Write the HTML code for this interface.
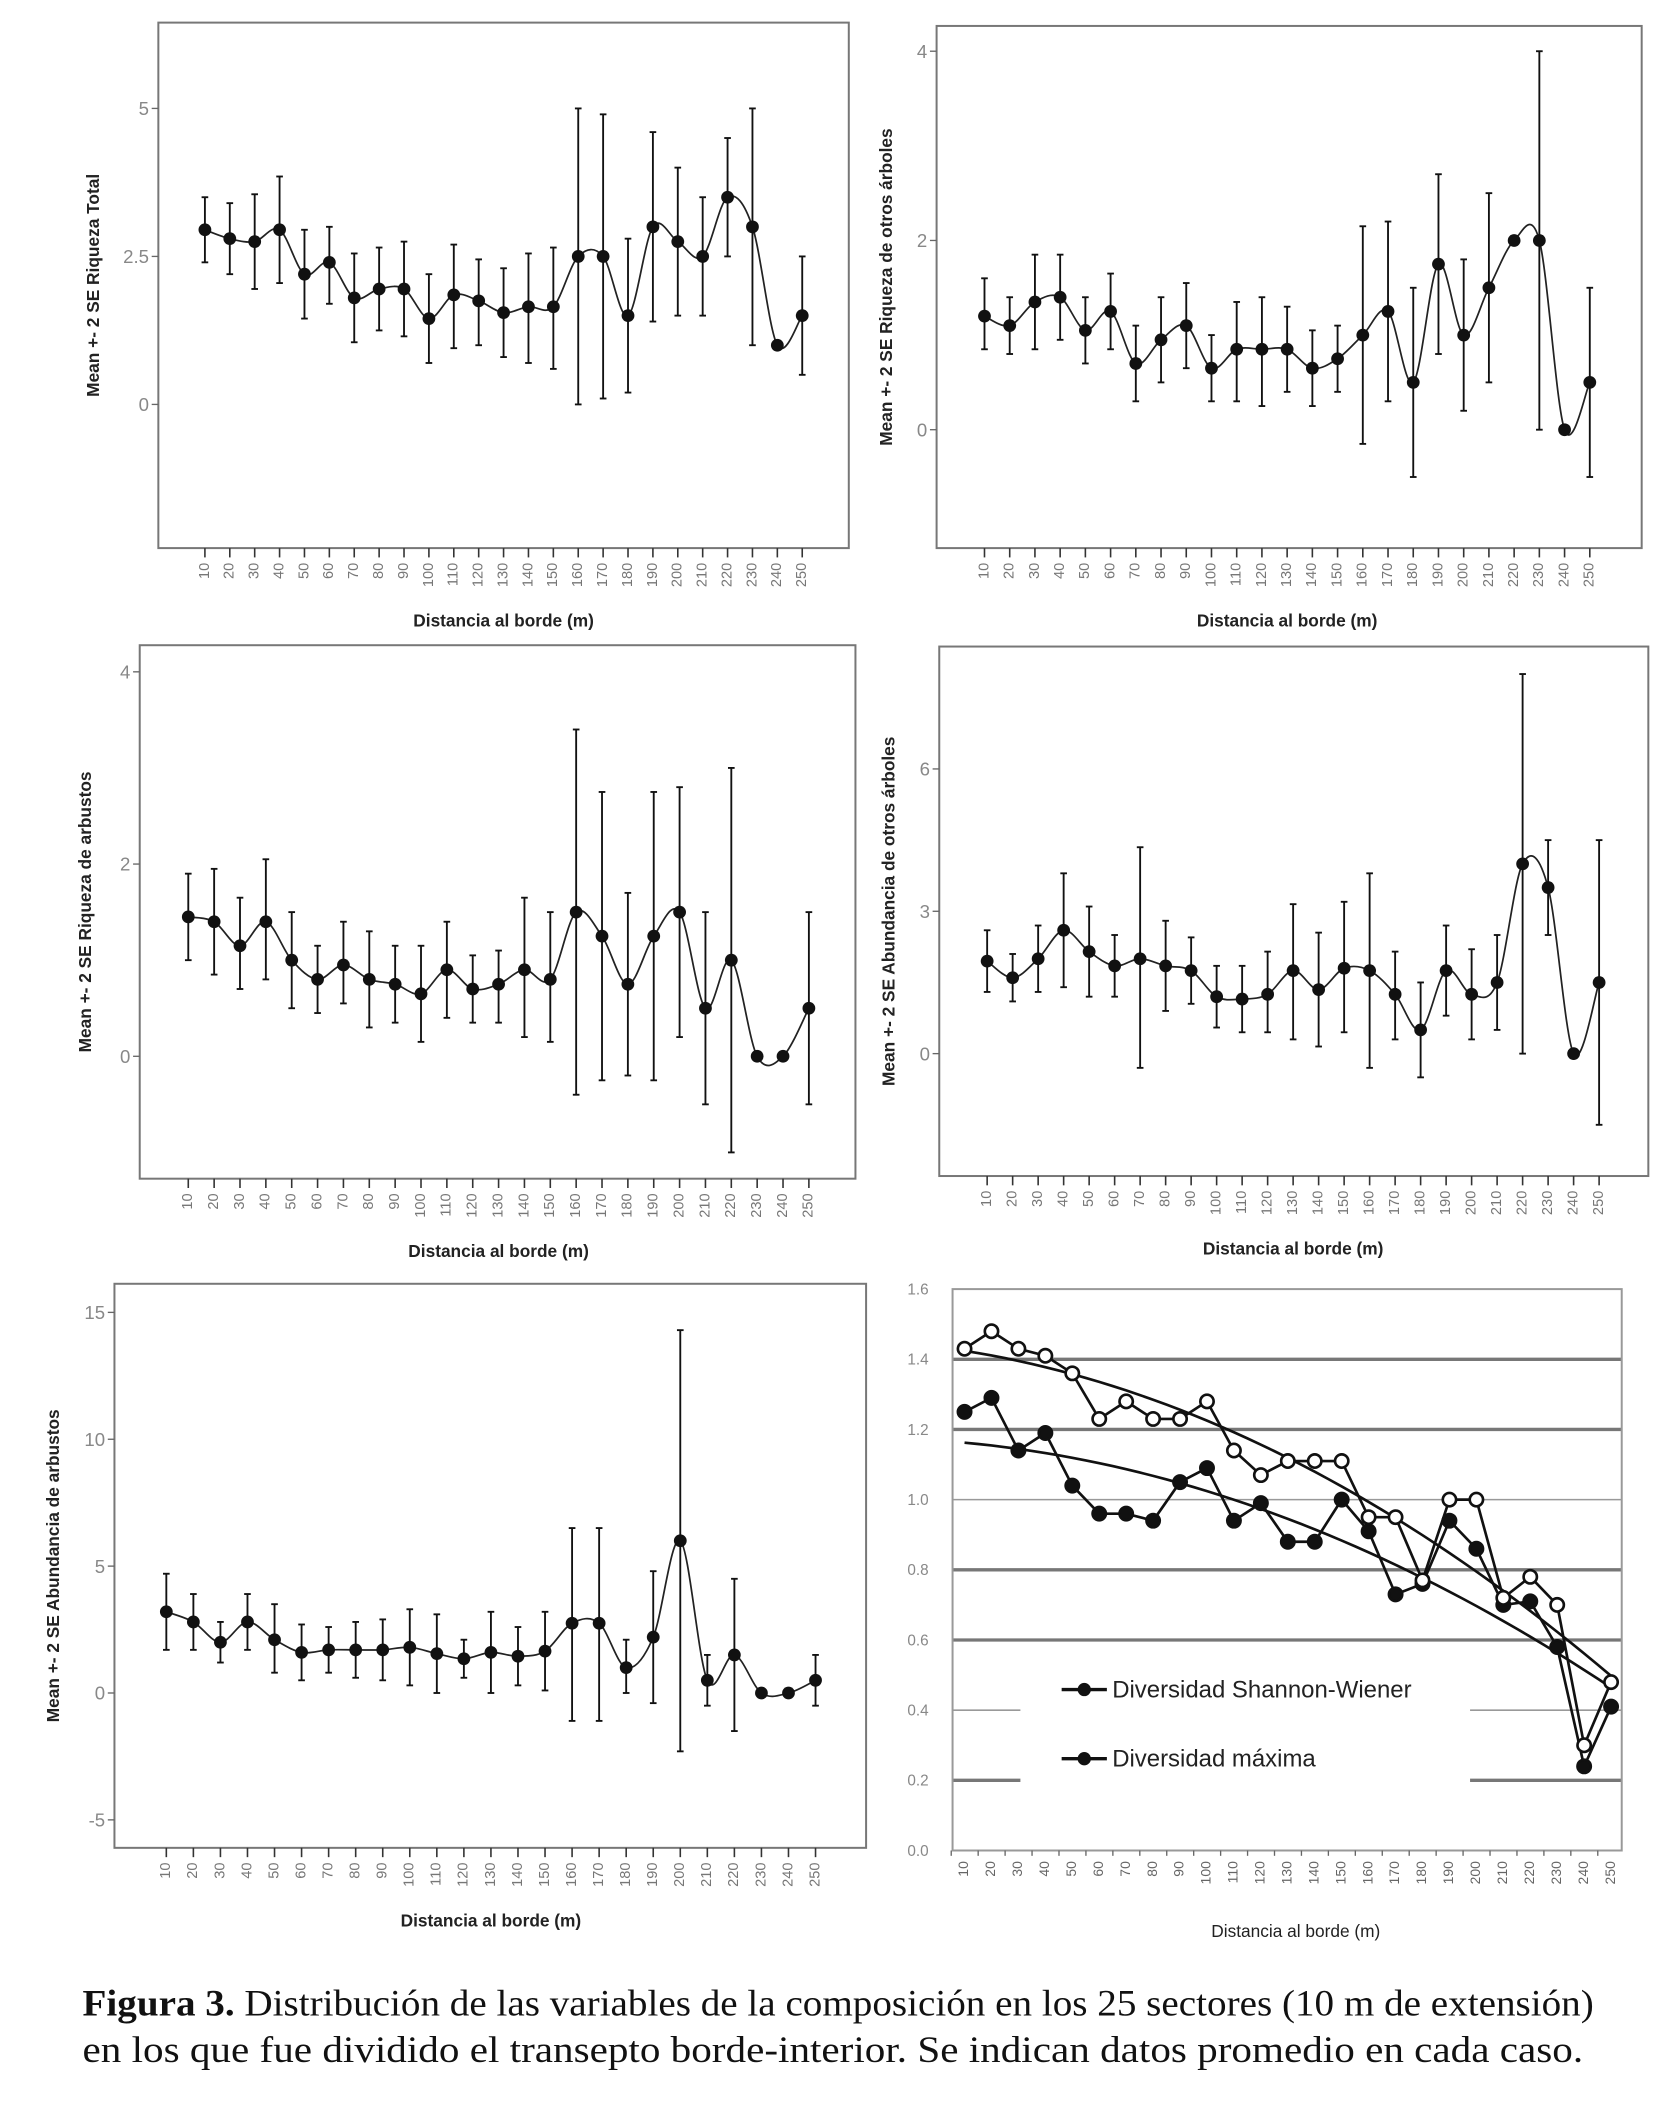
<!DOCTYPE html>
<html><head><meta charset="utf-8">
<style>
html,body{margin:0;padding:0;background:#fff;}
svg{display:block;}
</style></head>
<body>
<svg id="fig" xmlns="http://www.w3.org/2000/svg" width="1663" height="2105" viewBox="0 0 1250 1582.3" font-family="'Liberation Sans', sans-serif">
<rect width="1250" height="1582.3" fill="#fff"/>
<text x="62" y="1515" font-family="'Liberation Serif', serif" font-size="28" fill="#111" textLength="1136" lengthAdjust="spacingAndGlyphs"><tspan font-weight="bold">Figura 3.</tspan> Distribución de las variables de la composición en los 25 sectores (10 m de extensión)</text>
<text x="62" y="1550" font-family="'Liberation Serif', serif" font-size="28" fill="#111" textLength="1128" lengthAdjust="spacingAndGlyphs">en los que fue dividido el transepto borde-interior. Se indican datos promedio en cada caso.</text>
</svg>
<script>
const categories=[10,20,30,40,50,60,70,80,90,100,110,120,130,140,150,160,170,180,190,200,210,220,230,240,250];
const p1Mean=[2.95,2.8,2.75,2.95,2.2,2.4,1.8,1.95,1.95,1.45,1.85,1.75,1.55,1.65,1.65,2.5,2.5,1.5,3.0,2.75,2.5,3.5,3.0,1.0,1.5];
const p1Lo=[2.4,2.2,1.95,2.05,1.45,1.7,1.05,1.25,1.15,0.7,0.95,1.0,0.8,0.7,0.6,0,0.1,0.2,1.4,1.5,1.5,2.5,1.0,null,0.5];
const p1Hi=[3.5,3.4,3.55,3.85,2.95,3.0,2.55,2.65,2.75,2.2,2.7,2.45,2.3,2.55,2.65,5.0,4.9,2.8,4.6,4.0,3.5,4.5,5.0,null,2.5];
const p1Ticks=[0,2.5,5];
const p2Mean=[1.2,1.1,1.35,1.4,1.05,1.25,0.7,0.95,1.1,0.65,0.85,0.85,0.85,0.65,0.75,1.0,1.25,0.5,1.75,1.0,1.5,2.0,2.0,0,0.5];
const p2Lo=[0.85,0.8,0.85,0.95,0.7,0.85,0.3,0.5,0.65,0.3,0.3,0.25,0.4,0.25,0.4,-0.15,0.3,-0.5,0.8,0.2,0.5,null,0,null,-0.5];
const p2Hi=[1.6,1.4,1.85,1.85,1.4,1.65,1.1,1.4,1.55,1.0,1.35,1.4,1.3,1.05,1.1,2.15,2.2,1.5,2.7,1.8,2.5,null,4.0,null,1.5];
const p2Ticks=[0,2,4];
const p3Mean=[1.45,1.4,1.15,1.4,1.0,0.8,0.95,0.8,0.75,0.65,0.9,0.7,0.75,0.9,0.8,1.5,1.25,0.75,1.25,1.5,0.5,1.0,0,0,0.5];
const p3Lo=[1.0,0.85,0.7,0.8,0.5,0.45,0.55,0.3,0.35,0.15,0.4,0.35,0.35,0.2,0.15,-0.4,-0.25,-0.2,-0.25,0.2,-0.5,-1.0,null,null,-0.5];
const p3Hi=[1.9,1.95,1.65,2.05,1.5,1.15,1.4,1.3,1.15,1.15,1.4,1.05,1.1,1.65,1.5,3.4,2.75,1.7,2.75,2.8,1.5,3.0,null,null,1.5];
const p3Ticks=[0,2,4];
const p4Mean=[1.95,1.6,2.0,2.6,2.15,1.85,2.0,1.85,1.75,1.2,1.15,1.25,1.75,1.35,1.8,1.75,1.25,0.5,1.75,1.25,1.5,4.0,3.5,0,1.5];
const p4Lo=[1.3,1.1,1.3,1.4,1.2,1.2,-0.3,0.9,1.05,0.55,0.45,0.45,0.3,0.15,0.45,-0.3,0.3,-0.5,0.8,0.3,0.5,0,2.5,null,-1.5];
const p4Hi=[2.6,2.1,2.7,3.8,3.1,2.5,4.35,2.8,2.45,1.85,1.85,2.15,3.15,2.55,3.2,3.8,2.15,1.5,2.7,2.2,2.5,8.0,4.5,null,4.5];
const p4Ticks=[0,3,6];
const p5Mean=[3.2,2.8,2.0,2.8,2.1,1.6,1.7,1.7,1.7,1.8,1.55,1.35,1.6,1.45,1.65,2.75,2.75,1.0,2.2,6.0,0.5,1.5,0,0,0.5];
const p5Lo=[1.7,1.7,1.2,1.7,0.8,0.5,0.8,0.6,0.5,0.3,0,0.6,0,0.3,0.1,-1.1,-1.1,0,-0.4,-2.3,-0.5,-1.5,null,null,-0.5];
const p5Hi=[4.7,3.9,2.8,3.9,3.5,2.7,2.6,2.8,2.9,3.3,3.1,2.1,3.2,2.6,3.2,6.5,6.5,2.1,4.8,14.3,1.5,4.5,null,null,1.5];
const p5Ticks=[-5,0,5,10,15];
const divMax=[1.43,1.48,1.43,1.41,1.36,1.23,1.28,1.23,1.23,1.28,1.14,1.07,1.11,1.11,1.11,0.95,0.95,0.77,1.0,1.0,0.72,0.78,0.7,0.3,0.48];
const divSW=[1.25,1.29,1.14,1.19,1.04,0.96,0.96,0.94,1.05,1.09,0.94,0.99,0.88,0.88,1.0,0.91,0.73,0.76,0.94,0.86,0.70,0.71,0.58,0.24,0.41];
const p6Ticks=[0,0.2,0.4,0.6,0.8,1.0,1.2,1.4,1.6];

const NS='http://www.w3.org/2000/svg';
const svg=document.getElementById('fig');
function mk(tag,attrs,parent){const e=document.createElementNS(NS,tag);for(const k in attrs)e.setAttribute(k,attrs[k]);(parent||svg).appendChild(e);return e;}
function smoothPath(pts){
  let d='M'+pts[0][0]+','+pts[0][1];
  for(let i=0;i<pts.length-1;i++){
    const p0=pts[i-1]||pts[i],p1=pts[i],p2=pts[i+1],p3=pts[i+2]||p2;
    const c1=[p1[0]+(p2[0]-p0[0])/6,p1[1]+(p2[1]-p0[1])/6];
    const c2=[p2[0]-(p3[0]-p1[0])/6,p2[1]-(p3[1]-p1[1])/6];
    d+=' C'+c1[0]+','+c1[1]+' '+c2[0]+','+c2[1]+' '+p2[0]+','+p2[1];
  }
  return d;
}
function panel(id,box,x10,x250,yA,vA,yB,vB,ticks,mean,lo,hi,ytitle,ytitleX){
  const g=mk('g',{});
  
  
  const xs=i=>x10+(x250-x10)*(categories[i]-categories[0])/(categories[categories.length-1]-categories[0]);
  const ys=v=>yA+(v-vA)*(yB-yA)/(vB-vA);
  const fr=mk('rect',{x:box[0],y:box[1],width:box[2]-box[0],height:box[3]-box[1],fill:'none',stroke:'#777','stroke-width':1.5},g);
  
  
  ticks.forEach(t=>{
    const y=ys(t);
    mk('line',{x1:box[0]-5,x2:box[0],y1:y,y2:y,stroke:'#666','stroke-width':1},g);
    const tx=mk('text',{x:box[0]-7,y:y+5,'text-anchor':'end','font-size':14,fill:'#888'},g);
    tx.textContent=String(t);
    
    
  });
  categories.forEach((c,i)=>{
    const x=xs(i);
    mk('line',{x1:x,x2:x,y1:box[3],y2:box[3]+7,stroke:'#333','stroke-width':1.2},g);
    const tx=mk('text',{x:x,y:box[3]+11,'text-anchor':'end','font-size':11,fill:'#777',transform:'rotate(-90 '+x+' '+(box[3]+11)+')','dominant-baseline':'middle'},g);
    tx.textContent=String(c);
    
    
  });
  const pts=mean.map((m,i)=>[xs(i),ys(m)]);
  const ln=mk('path',{d:smoothPath(pts),fill:'none',stroke:'#222','stroke-width':1.3},g);
  
  
  mean.forEach((m,i)=>{
    const x=xs(i);
    if(lo[i]!==null){
      const eb=mk('g',{},g);
      
      
      mk('line',{x1:x,x2:x,y1:ys(lo[i]),y2:ys(hi[i]),stroke:'#111','stroke-width':1.4},eb);
      mk('line',{x1:x-2.5,x2:x+2.5,y1:ys(lo[i]),y2:ys(lo[i]),stroke:'#111','stroke-width':1.4},eb);
      mk('line',{x1:x-2.5,x2:x+2.5,y1:ys(hi[i]),y2:ys(hi[i]),stroke:'#111','stroke-width':1.4},eb);
    }
    const c=mk('circle',{cx:x,cy:ys(m),r:4.8,fill:'#111'},g);
    
    
  });
  const cy=(box[1]+box[3])/2;
  const yt=mk('text',{x:ytitleX,y:cy,'text-anchor':'middle','dominant-baseline':'middle','font-size':13,'font-weight':'bold',fill:'#222',transform:'rotate(-90 '+ytitleX+' '+cy+')'},g);
  yt.textContent=ytitle;
  
  
  const cx=(x10+x250)/2;
  const xt=mk('text',{x:cx,y:box[3]+59,'text-anchor':'middle','font-size':13,'font-weight':'bold',fill:'#222'},g);
  xt.textContent='Distancia al borde (m)';
  
  
}
panel('panel-riqueza-total',[119,17,638,412],154,603,304,0,81.5,5,p1Ticks,p1Mean,p1Lo,p1Hi,'Mean +- 2 SE Riqueza Total',71);
panel('panel-riqueza-otros-arboles',[704,19.5,1234,412],740,1195,323,0,38.5,4,p2Ticks,p2Mean,p2Lo,p2Hi,'Mean +- 2 SE Riqueza de otros árboles',667);
panel('panel-riqueza-arbustos',[105,485,643,886],141.5,608,794,0,505,4,p3Ticks,p3Mean,p3Lo,p3Hi,'Mean +- 2 SE Riqueza de arbustos',65);
panel('panel-abundancia-otros-arboles',[706,486,1239,884],742,1202,792,0,578,6,p4Ticks,p4Mean,p4Lo,p4Hi,'Mean +- 2 SE Abundancia de otros árboles',669);
panel('panel-abundancia-arbustos',[86,965,651,1389],125,613,1272.6,0,986.5,15,p5Ticks,p5Mean,p5Lo,p5Hi,'Mean +- 2 SE Abundancia de arbustos',41);

// panel 6
(function(){
  const g=mk('g',{});
  
  
  const L=716,R=1219,T=969,B=1391,x10=725,x250=1211;
  const xs=i=>x10+(x250-x10)*i/(categories.length-1);
  const ys=v=>B-(v-0)*(B-T)/1.6;
  p6Ticks.forEach(t=>{
    const y=ys(t);
    const thick=[0.6,0.8,1.2,1.4].some(v=>Math.abs(v-t)<1e-6);
    if(t>0&&t<1.6){
      if(Math.abs(t-0.4)<1e-6||Math.abs(t-0.2)<1e-6){
        const th=t<0.3;
        mk('line',{x1:L,x2:767,y1:y,y2:y,stroke:th?'#777':'#999','stroke-width':th?2.5:1.2},g);
        mk('line',{x1:1105,x2:R,y1:y,y2:y,stroke:th?'#777':'#999','stroke-width':th?2.5:1.2},g);
      } else {
        mk('line',{x1:L,x2:R,y1:y,y2:y,stroke:thick?'#777':'#999','stroke-width':thick?2.5:1.2},g);
      }
    }
    const tx=mk('text',{x:L-18,y:y+4,'text-anchor':'end','font-size':11.5,fill:'#888'},g);
    tx.textContent=t.toFixed(1);
    
    
  });
  const fr=mk('rect',{x:L,y:T,width:R-L,height:B-T,fill:'none',stroke:'#999','stroke-width':1.5},g);
  
  
  categories.forEach((c,i)=>{
    const x=xs(i);
    mk('line',{x1:x-10,x2:x-10,y1:B,y2:B+4,stroke:'#666','stroke-width':1},g);
    const tx=mk('text',{x:x,y:B+8,'text-anchor':'end','font-size':10.5,fill:'#666',transform:'rotate(-90 '+x+' '+(B+8)+')','dominant-baseline':'middle'},g);
    tx.textContent=String(c);
    
    
  });
  function fit(arr){
    const n=arr.length;let S=[0,0,0,0,0],T2=[0,0,0];
    arr.forEach((v,i)=>{for(let k=0;k<5;k++)S[k]+=Math.pow(i,k);for(let k=0;k<3;k++)T2[k]+=v*Math.pow(i,k);});
    const A=[[S[0],S[1],S[2],T2[0]],[S[1],S[2],S[3],T2[1]],[S[2],S[3],S[4],T2[2]]];
    for(let i=0;i<3;i++){for(let j=i+1;j<3;j++){const f=A[j][i]/A[i][i];for(let k=i;k<4;k++)A[j][k]-=f*A[i][k];}}
    const c=[0,0,0];for(let i=2;i>=0;i--){let s=A[i][3];for(let k=i+1;k<3;k++)s-=A[i][k]*c[k];c[i]=s/A[i][i];}
    return i=>c[0]+c[1]*i+c[2]*i*i;
  }
  [[divMax,'trend-max'],[divSW,'trend-shannon']].forEach(([arr,nm])=>{
    const f=fit(arr);let d='';
    for(let i=0;i<=24;i+=0.5)d+=(i?' L':'M')+xs(i)+','+ys(f(i));
    const p=mk('path',{d:d,fill:'none',stroke:'#111','stroke-width':2},g);
    
    
  });
  function series(arr,open,nm){
    const d=arr.map((v,i)=>(i?'L':'M')+xs(i)+','+ys(v)).join(' ');
    const p=mk('path',{d:d,fill:'none',stroke:'#111','stroke-width':2},g);
    
    
    arr.forEach((v,i)=>{
      const c=mk('circle',{cx:xs(i),cy:ys(v),r:5,fill:open?'#fff':'#111',stroke:'#111','stroke-width':2},g);
      
      
    });
  }
  series(divSW,false,'shannon-wiener');
  series(divMax,true,'diversidad-maxima');
  [['Diversidad Shannon-Wiener',1270,'legend-entry-shannon'],['Diversidad máxima',1322,'legend-entry-maxima']].forEach(([t,y,nm])=>{
    const lg=mk('g',{},g);
    
    
    mk('line',{x1:798,x2:832,y1:y,y2:y,stroke:'#111','stroke-width':2.5},lg);
    mk('circle',{cx:815,cy:y,r:5,fill:'#111'},lg);
    const tx=mk('text',{x:836,y:y+6,'font-size':18,fill:'#222'},lg);
    tx.textContent=t;
  });
  const xt=mk('text',{x:974,y:1456,'text-anchor':'middle','font-size':13,fill:'#222'},g);
  xt.textContent='Distancia al borde (m)';
  
  
})();
</script>
</body></html>
